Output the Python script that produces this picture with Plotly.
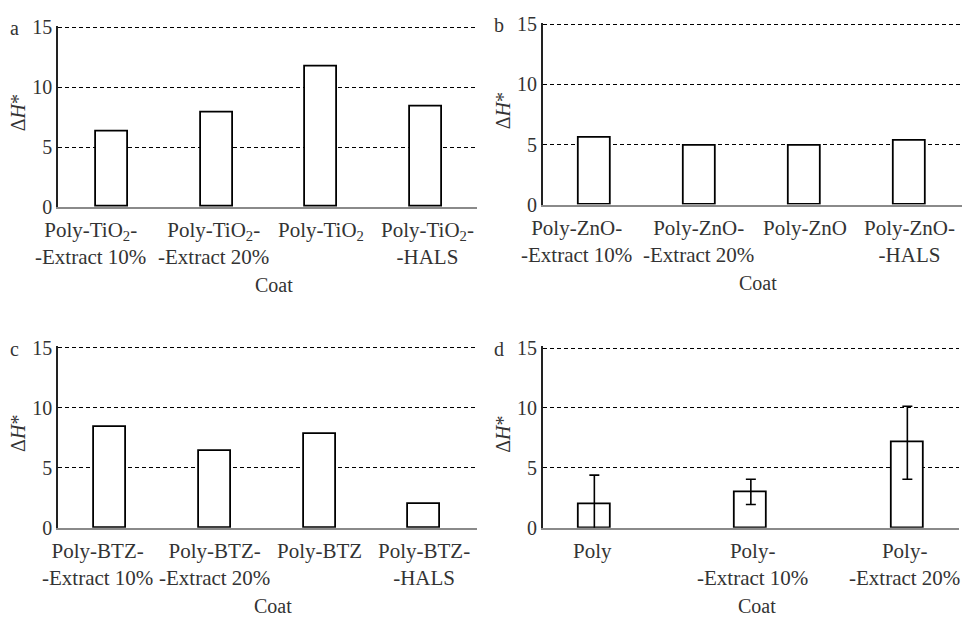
import plotly.graph_objects as go

# ---- data -------------------------------------------------------------
labels_a = ["Poly-TiO<sub>2</sub>-<br>-Extract 10%", "Poly-TiO<sub>2</sub>-<br>-Extract 20%",
            "Poly-TiO<sub>2</sub>", "Poly-TiO<sub>2</sub>-<br>-HALS"]
values_a = [6.3, 7.9, 11.7, 8.4]

labels_b = ["Poly-ZnO-<br>-Extract 10%", "Poly-ZnO-<br>-Extract 20%",
            "Poly-ZnO", "Poly-ZnO-<br>-HALS"]
values_b = [5.6, 4.9, 4.9, 5.3]

labels_c = ["Poly-BTZ-<br>-Extract 10%", "Poly-BTZ-<br>-Extract 20%",
            "Poly-BTZ", "Poly-BTZ-<br>-HALS"]
values_c = [8.4, 6.4, 7.8, 2.0]

labels_d = ["Poly", "Poly-<br>-Extract 10%", "Poly-<br>-Extract 20%"]
values_d = [2.0, 3.0, 7.1]
errors_d = [2.4, 1.05, 3.05]

y_ticks = [0, 5, 10, 15]
panel_letters = ["a", "b", "c", "d"]
x_title = "Coat"
y_title = "Δ<i>H</i>*"

# ---- layout geometry (pixels) -----------------------------------------
W, H = 967, 624
FONT = "Liberation Serif"
TXT = "#333333"
Y_TOP = 15.15   # a little headroom so the dashed line at 15 is drawn

# left, right, pixel row of y=15, pixel row of y=0 for each plot area
boxes = [(58, 477, 19, 204.5), (542.7, 961.7, 16, 202),
         (58, 476.7, 350, 536), (542.7, 959, 350.3, 536)]
# per-label horizontal nudges of the category text
label_shift = [[-22, -3, 0, 2], [-19, -1, 0, 0], [-13, -1, 0, 0], [-2, 2, -3]]

panels = [
    (labels_a, values_a, None, 0.305, (-0.52, 3.49)),
    (labels_b, values_b, None, 0.305, (-0.5, 3.5)),
    (labels_c, values_c, None, 0.305, (-0.5, 3.5)),
    (labels_d, values_d, errors_d, 0.205, (-0.33, 2.33)),
]

fig = go.Figure()
annotations = []

for i, (labels, vals, errs, bw, xr) in enumerate(panels):
    n = i + 1
    xa = "x" if n == 1 else f"x{n}"
    ya = "y" if n == 1 else f"y{n}"
    l, r, t, b = boxes[i]
    top = b - (b - t) * Y_TOP / 15

    bar = dict(
        x=list(range(len(vals))), y=vals, width=bw,
        marker=dict(color="white", line=dict(color="black", width=1.8)),
        xaxis=xa, yaxis=ya, showlegend=False, hoverinfo="y",
    )
    if errs is not None:
        bar["error_y"] = dict(type="data", array=errs, visible=True,
                              color="black", thickness=1.6, width=5)
    fig.add_trace(go.Bar(**bar))

    xkey = "xaxis" if n == 1 else f"xaxis{n}"
    ykey = "yaxis" if n == 1 else f"yaxis{n}"
    fig.update_layout({
        xkey: dict(domain=[l / W, r / W], range=list(xr), anchor=ya,
                   showticklabels=False, ticks="", showgrid=False, zeroline=False,
                   showline=True, linecolor="#8a8a8a", linewidth=2,
                   layer="below traces"),
        ykey: dict(domain=[1 - b / H, 1 - top / H], range=[0, Y_TOP], anchor=xa,
                   tickvals=y_ticks, ticks="", showgrid=True, gridcolor="black",
                   gridwidth=1, griddash="4px,3px", zeroline=False,
                   showline=True, linecolor="#222222", linewidth=1.5,
                   tickfont=dict(family=FONT, size=20, color=TXT)),
    })

    # category labels under each bar
    for j, lab in enumerate(labels):
        annotations.append(dict(
            x=j, y=0, xref=xa, yref=ya, text=lab, showarrow=False,
            xanchor="center", yanchor="top", yshift=-9, xshift=label_shift[i][j],
            font=dict(family=FONT, size=21, color=TXT), align="center"))

    # axis titles and panel letter
    annotations.append(dict(
        x=((l + r) / 2 + 6) / W, y=1 - (b + 81) / H, xref="paper", yref="paper",
        text=x_title, showarrow=False, xanchor="center", yanchor="middle",
        font=dict(family=FONT, size=20, color=TXT)))
    annotations.append(dict(
        x=(l - 40) / W, y=1 - ((t + b) / 2 - 4) / H, xref="paper", yref="paper",
        text=y_title, showarrow=False, xanchor="center", yanchor="middle",
        textangle=-90, font=dict(family=FONT, size=20, color=TXT)))
    annotations.append(dict(
        x=(l - 44) / W, y=1 - (t + 1) / H, xref="paper", yref="paper",
        text=panel_letters[i], showarrow=False, xanchor="center", yanchor="middle",
        font=dict(family=FONT, size=20, color=TXT)))

fig.update_layout(
    width=W, height=H, margin=dict(l=0, r=0, t=0, b=0),
    paper_bgcolor="white", plot_bgcolor="white",
    font=dict(family=FONT, size=20, color=TXT),
    annotations=annotations, bargap=0,
)

fig.write_html("out.html")
